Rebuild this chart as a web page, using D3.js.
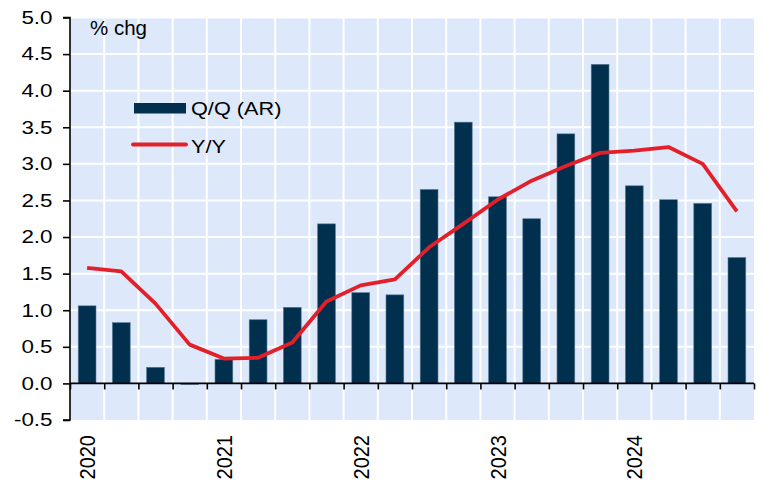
<!DOCTYPE html>
<html>
<head>
<meta charset="utf-8">
<script src="https://cdn.jsdelivr.net/npm/d3@7"></script>
<style>
  html, body { margin: 0; padding: 0; background: #ffffff; }
  svg { display: block; font-family: "Liberation Sans", Arial, sans-serif; }
</style>
</head>
<body>
<svg id="chart" width="764" height="481"></svg>
<script>
// ---- Data ----
const quarters = ["2020Q1","2020Q2","2020Q3","2020Q4","2021Q1","2021Q2","2021Q3","2021Q4",
                  "2022Q1","2022Q2","2022Q3","2022Q4","2023Q1","2023Q2","2023Q3","2023Q4",
                  "2024Q1","2024Q2","2024Q3","2024Q4"];
const qoqAR = [1.06, 0.83, 0.22, 0.00, 0.33, 0.87, 1.04, 2.18,
               1.24, 1.21, 2.65, 3.57, 2.55, 2.25, 3.41, 4.36,
               2.70, 2.51, 2.46, 1.72];
const yoy   = [1.58, 1.53, 1.09, 0.53, 0.34, 0.35, 0.56, 1.12,
               1.34, 1.42, 1.86, 2.18, 2.51, 2.77, 2.97, 3.15,
               3.18, 3.23, 3.00, 2.35];
const yTicks = [-0.5, 0.0, 0.5, 1.0, 1.5, 2.0, 2.5, 3.0, 3.5, 4.0, 4.5, 5.0];
const yearLabels = ["2020","2021","2022","2023","2024"];
const seriesNames = ["Q/Q (AR)", "Y/Y"];
const unitLabel = "% chg";

// ---- Layout ----
const svg = d3.select("#chart");
const pLeft = 70, pRight = 754, pTop = 17.5, pBottom = 420;
const bg = "#dde9fb", barColor = "#00304e", lineColor = "#e3202a";
const sx = 1.28;

const x = d3.scaleBand().domain(quarters).range([pLeft, pRight]).paddingInner(0.48).paddingOuter(0.24);
const xb = d3.scaleBand().domain(quarters).range([pLeft, pRight]); // full bands for grid
const y = d3.scaleLinear().domain([-0.5, 5.0]).range([pBottom, pTop]);

// background
svg.append("rect").attr("x", pLeft).attr("y", pTop).attr("width", pRight - pLeft).attr("height", pBottom - pTop).attr("fill", bg);

// grid: horizontal
svg.append("g").selectAll("line").data(yTicks.filter(d => d !== -0.5 && d !== 0)).join("line")
  .attr("x1", pLeft).attr("x2", pRight).attr("y1", d => y(d)).attr("y2", d => y(d))
  .attr("stroke", "#ffffff").attr("stroke-width", 2);
// grid: vertical at band boundaries
svg.append("g").selectAll("line").data(quarters.slice(1)).join("line")
  .attr("x1", d => xb(d)).attr("x2", d => xb(d)).attr("y1", pTop).attr("y2", pBottom)
  .attr("stroke", "#ffffff").attr("stroke-width", 2);

// bars
svg.append("g").selectAll("rect").data(quarters).join("rect")
  .attr("x", d => x(d))
  .attr("width", x.bandwidth())
  .attr("y", (d, i) => y(Math.max(0, qoqAR[i])))
  .attr("height", (d, i) => Math.max(1, Math.abs(y(qoqAR[i]) - y(0))))
  .attr("fill", barColor)
  .attr("stroke", "#5a7890").attr("stroke-width", 0.6);

// line
const lineGen = d3.line().x((d, i) => xb(quarters[i]) + xb.bandwidth() / 2).y(d => y(d));
svg.append("path").datum(yoy).attr("d", lineGen)
  .attr("fill", "none").attr("stroke", lineColor).attr("stroke-width", 3.8)
  .attr("stroke-linejoin", "round");

// y axis
const yAxis = d3.axisLeft(y).tickValues(yTicks).tickSize(7).tickFormat("");
const gy = svg.append("g").attr("transform", `translate(${pLeft},0)`).call(yAxis);
gy.select(".domain").attr("stroke", "#000").attr("stroke-width", 1.6).attr("d", `M-7,${y(-0.5)}H0V${y(5)}H-7`);
gy.selectAll(".tick line").attr("stroke", "#000").attr("stroke-width", 1.6);
// y tick labels (horizontally stretched)
svg.append("g").selectAll("text").data(yTicks).join("text")
  .attr("transform", d => `translate(52.5,${y(d)}) scale(${sx},1)`)
  .attr("dy", "0.36em").attr("text-anchor", "end")
  .attr("font-size", 17.5).attr("fill", "#000")
  .text(d => d.toFixed(1));

// x axis on zero line
const boundaries = quarters.map(q => xb(q)).concat([pRight]);
const xAxisScale = d3.scaleLinear().domain([pLeft, pRight]).range([pLeft, pRight]);
const xAxis = d3.axisBottom(xAxisScale).tickValues(boundaries).tickSize(6).tickFormat("");
const gx = svg.append("g").attr("transform", `translate(0,${y(0)})`).call(xAxis);
gx.select(".domain").attr("stroke", "#000").attr("stroke-width", 1.6).attr("d", `M${pLeft},0H${pRight}`);
gx.selectAll(".tick line").attr("stroke", "#000").attr("stroke-width", 1.6);

// year labels (rotated)
svg.append("g").selectAll("text").data(yearLabels).join("text")
  .attr("transform", d => `translate(${xb(d + "Q1") + xb.bandwidth() / 2 + 8},435) scale(1.1,1) rotate(-90)`)
  .attr("text-anchor", "end")
  .attr("font-size", 20).attr("fill", "#000")
  .text(d => d);

// unit label
svg.append("text").attr("x", 90).attr("y", 35).attr("font-size", 20.5).attr("fill", "#000").text(unitLabel);

// legend
const lg = svg.append("g");
lg.append("rect").attr("x", 134).attr("y", 103).attr("width", 52).attr("height", 10.5).attr("fill", barColor);
lg.append("text").attr("transform", `translate(191,114.5) scale(1.24,1)`).attr("font-size", 17.5).attr("fill", "#000").text(seriesNames[0]);
lg.append("line").attr("x1", 133).attr("x2", 186).attr("y1", 144.5).attr("y2", 144.5)
  .attr("stroke", lineColor).attr("stroke-width", 3.8).attr("stroke-linecap", "round");
lg.append("text").attr("transform", `translate(191,152.5) scale(1.24,1)`).attr("font-size", 17.5).attr("fill", "#000").text(seriesNames[1]);
</script>
</body>
</html>
